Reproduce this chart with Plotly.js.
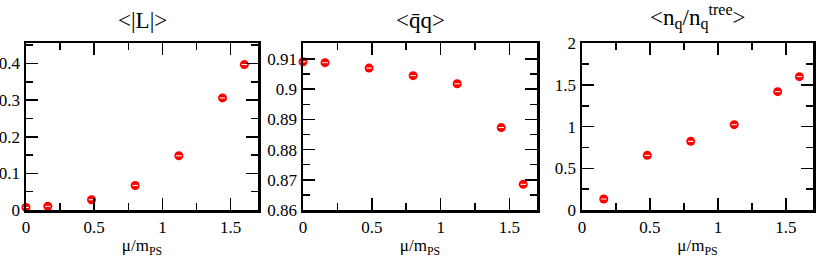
<!DOCTYPE html>
<html><head><meta charset="utf-8">
<script src="https://cdn.plot.ly/plotly-3.0.1.min.js"></script>
<style>html,body{margin:0;padding:0;background:#fff}</style>
</head><body><div id="plot" style="width:817px;height:258px"></div>
<script>
const muL = [0, 0.16, 0.48, 0.8, 1.12, 1.44, 1.6];
const polyakov = [0.007, 0.010, 0.028, 0.067, 0.148, 0.306, 0.397];
const muQ = [0, 0.16, 0.48, 0.8, 1.12, 1.44, 1.6];
const condensate = [0.9091, 0.9088, 0.9070, 0.9045, 0.9018, 0.8873, 0.8685];
const muN = [0.16, 0.48, 0.8, 1.12, 1.44, 1.6];
const density = [0.132, 0.656, 0.824, 1.024, 1.42, 1.60];
const titles = ["&lt;|L|&gt;", "&lt;q\u0304q&gt;", "&lt;n<sub>q</sub>/n<sub>q</sub><sup>tree</sup>&gt;"];
const xTitle = "\u03bc/m<sub>PS</sub>";

const font = "Liberation Serif";
const sets = [[muL, polyakov], [muQ, condensate], [muN, density]];
const traces = [];
sets.forEach((s, i) => {
  const ax = i === 0 ? "" : String(i + 1);
  traces.push({x: s[0], y: s[1], xaxis: "x" + ax, yaxis: "y" + ax, type: "scatter", mode: "markers",
    marker: {symbol: "circle", size: 9, color: "#ff0000", line: {width: 0}}, cliponaxis: false, hoverinfo: "none"});
  traces.push({x: s[0], y: s[1], xaxis: "x" + ax, yaxis: "y" + ax, type: "scatter", mode: "markers",
    marker: {symbol: "line-ew-open", size: 4, color: "#ffffff", line: {width: 1, color: "#ffffff"}}, cliponaxis: false, hoverinfo: "none"});
});

function xaxis(dom, anchor) {
  return {domain: dom, anchor: anchor, range: [0, 1.7], dtick: 0.5, tick0: 0,
    ticks: "inside", ticklen: 12, tickwidth: 1.5, tickcolor: "#000",
    minor: {dtick: 0.25, tick0: 0, ticks: "inside", ticklen: 7, tickwidth: 1.5, tickcolor: "#000"},
    showline: true, linewidth: 2.5, linecolor: "#000", mirror: "ticks", showgrid: false, zeroline: false,
    tickfont: {family: font, size: 17, color: "#000"},
    title: {text: xTitle, font: {family: font, size: 17, color: "#000"}, standoff: 0}};
}
function yaxis(dom, anchor, range, dtick, mdtick) {
  return {domain: dom, anchor: anchor, range: range, dtick: dtick, tick0: 0,
    ticks: "inside", ticklen: 12, tickwidth: 1.5, tickcolor: "#000",
    minor: {dtick: mdtick, tick0: 0, ticks: "inside", ticklen: 7, tickwidth: 1.5, tickcolor: "#000"},
    showline: true, linewidth: 2.5, linecolor: "#000", mirror: "ticks", showgrid: false, zeroline: false,
    tickfont: {family: font, size: 17, color: "#000"}};
}
const yd = [0.186, 0.832];
const xd = [[26/817, 258/817], [303/817, 537/817], [582/817, 813/817]];
const layout = {
  width: 817, height: 258, margin: {l: 0, r: 0, t: 0, b: 0},
  paper_bgcolor: "#fff", plot_bgcolor: "#fff", showlegend: false,
  font: {family: font},
  xaxis: xaxis(xd[0], "y"), yaxis: yaxis(yd, "x", [0, 0.455], 0.1, 0.05),
  xaxis2: xaxis(xd[1], "y2"), yaxis2: yaxis(yd, "x2", [0.86, 0.9152], 0.01, 0.005),
  xaxis3: xaxis(xd[2], "y3"), yaxis3: yaxis(yd, "x3", [0, 2], 0.5, 0.25),
  annotations: titles.map((t, i) => ({text: t, xref: "paper", yref: "paper",
    x: (xd[i][0] + xd[i][1]) / 2, y: 1 - 35/258, xanchor: "center", yanchor: "bottom",
    showarrow: false, font: {family: font, size: 23, color: "#000"}}))
};
Plotly.newPlot("plot", traces, layout, {staticPlot: true});
</script></body></html>
